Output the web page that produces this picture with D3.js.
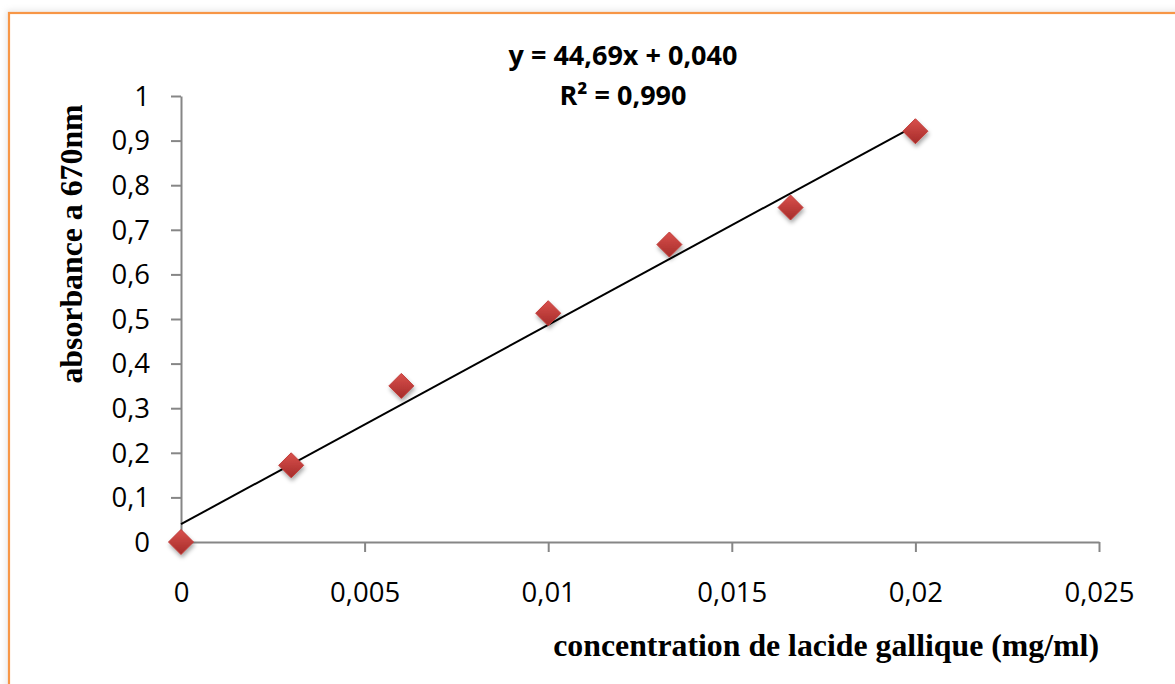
<!DOCTYPE html>
<html>
<head>
<meta charset="utf-8">
<script src="https://cdn.jsdelivr.net/npm/d3@7"></script>
<style>
  html, body { margin: 0; padding: 0; background: #fff; }
  svg { display: block; }
</style>
</head>
<body>
<svg id="chart" width="1175" height="684"></svg>
<script>
// ---- data ----
const concentrations = [0, 0.003, 0.006, 0.010, 0.0133, 0.0166, 0.020];
const absorbances = [0, 0.172, 0.350, 0.513, 0.667, 0.750, 0.921];
const xTicks = [0, 0.005, 0.01, 0.015, 0.02, 0.025];
const yTicks = [0, 0.1, 0.2, 0.3, 0.4, 0.5, 0.6, 0.7, 0.8, 0.9, 1];
const trendSlope = 44.69;
const trendIntercept = 0.040;
const trendRange = [0, 0.02];
const equationLines = ["y = 44,69x + 0,040", "R² = 0,990"];
const xTitle = "concentration de lacide gallique (mg/ml)";
const yTitle = "absorbance a 670nm";

const fmt = v => String(+v.toFixed(4)).replace(".", ",");

const svg = d3.select("#chart");
const defs = svg.append("defs");

const bshadow = defs.append("filter").attr("id", "bshadow").attr("x", "-5%").attr("y", "-5%").attr("width", "110%").attr("height", "110%");
bshadow.append("feGaussianBlur").attr("stdDeviation", 3);

const grad = defs.append("linearGradient").attr("id", "mgrad").attr("x1", 0).attr("y1", 0).attr("x2", 0).attr("y2", 1);
grad.append("stop").attr("offset", "0%").attr("stop-color", "#D9504C");
grad.append("stop").attr("offset", "100%").attr("stop-color", "#A52C2A");

const mshadow = defs.append("filter").attr("id", "mshadow").attr("x", "-50%").attr("y", "-50%").attr("width", "200%").attr("height", "200%");
mshadow.append("feDropShadow").attr("dx", 1).attr("dy", 3).attr("stdDeviation", 2.2).attr("flood-color", "#000").attr("flood-opacity", 0.35);

// outer border (only top/left visible)
svg.append("rect").attr("x", 9).attr("y", 13).attr("width", 1200).attr("height", 700)
  .attr("fill", "none").attr("stroke", "#bbb").attr("stroke-width", 4).attr("filter", "url(#bshadow)").attr("opacity", 0.5);
svg.append("rect").attr("x", 9).attr("y", 13).attr("width", 1200).attr("height", 700)
  .attr("fill", "#fff").attr("stroke", "#F79646").attr("stroke-width", 2.2);

const x = d3.scaleLinear().domain([0, 0.025]).range([181, 1099]);
const y = d3.scaleLinear().domain([0, 1]).range([542, 96]);

const axisColor = "#868686";
const xAxis = svg.append("g").attr("transform", `translate(0,${y(0)})`)
  .call(d3.axisBottom(x).tickValues(xTicks).tickSize(10).tickSizeOuter(0).tickFormat(fmt));
const yAxis = svg.append("g").attr("transform", `translate(${x(0)},0)`)
  .call(d3.axisLeft(y).tickValues(yTicks).tickSize(10).tickSizeOuter(0).tickFormat(fmt));

[xAxis, yAxis].forEach(g => {
  g.select(".domain").attr("stroke", axisColor).attr("stroke-width", 2);
  g.selectAll(".tick line").attr("stroke", axisColor).attr("stroke-width", 2);
  g.selectAll(".tick text").attr("fill", "#000")
    .style("font-family", "'Open Sans', sans-serif").style("font-size", "27.5px");
});
xAxis.select(".tick line").attr("opacity", 0);
xAxis.selectAll(".tick text").attr("y", 0).attr("dy", 0).attr("transform", "translate(0,60)");
yAxis.selectAll(".tick text").attr("x", -31).attr("dy", "0.34em");

// trend line
svg.append("line")
  .attr("x1", x(trendRange[0])).attr("y1", y(trendSlope * trendRange[0] + trendIntercept))
  .attr("x2", x(trendRange[1])).attr("y2", y(trendSlope * trendRange[1] + trendIntercept))
  .attr("stroke", "#000").attr("stroke-width", 2);

// markers
const data = concentrations.map((c, i) => ({ c, a: absorbances[i] }));
const half = 12.5;
svg.append("g").selectAll("path").data(data).join("path")
  .attr("d", `M0,${-half}L${half},0L0,${half}L${-half},0Z`)
  .attr("transform", d => `translate(${x(d.c)},${y(d.a)})`)
  .attr("fill", "url(#mgrad)")
  .attr("stroke", "#C13B38").attr("stroke-width", 1)
  .attr("filter", "url(#mshadow)");

// trend equation
svg.append("g").selectAll("text").data(equationLines).join("text")
  .attr("x", 623).attr("y", (d, i) => 65 + i * 40)
  .attr("text-anchor", "middle")
  .style("font-family", "'Open Sans', sans-serif").style("font-weight", "bold").style("font-size", "27px")
  .attr("fill", "#000").text(d => d);

// axis titles
svg.append("text").attr("x", 1099).attr("y", 656).attr("text-anchor", "end")
  .style("font-family", "'Liberation Serif', 'Times New Roman', serif").style("font-weight", "bold").style("font-size", "31.8px")
  .text(xTitle);
svg.append("text").attr("transform", "translate(82,244) rotate(-90)").attr("text-anchor", "middle")
  .style("font-family", "'Liberation Serif', 'Times New Roman', serif").style("font-weight", "bold").style("font-size", "31.8px")
  .text(yTitle);
</script>
</body>
</html>
